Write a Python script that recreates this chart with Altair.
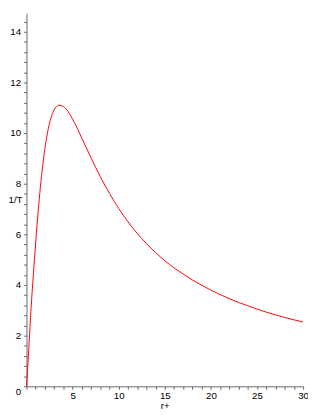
import altair as alt
import pandas as pd

r_plus = [0, 0.25, 0.5, 0.75, 1, 1.5, 2, 2.5, 3, 3.5, 4, 4.5, 5, 6, 7, 8, 9, 10,
          11, 12, 13, 14, 15, 16, 18, 20, 22, 24, 26, 28, 30]
inv_T = [0, 1.5, 3.1, 4.45, 5.7, 7.85, 9.4, 10.4, 10.92, 11.1, 11.05, 10.85, 10.55,
         9.8, 9.02, 8.28, 7.62, 7.02, 6.5, 6.04, 5.64, 5.28, 4.96, 4.68, 4.2, 3.8,
         3.46, 3.18, 2.93, 2.72, 2.54]

x_ticks = list(range(0, 31))
y_ticks = [round(i * 0.4, 1) for i in range(0, 37)]

df = pd.DataFrame({"r": r_plus, "invT": inv_T})

FONT = "Liberation Sans"
AXIS_COL = "#666666"
FS = 10

x_axis = alt.Axis(
    title="r+", values=x_ticks,
    labelExpr="(datum.value % 5 == 0 && datum.value != 0) ? format(datum.value, 'd') : ''",
    labelOverlap=False, labelFlush=False, grid=False,
    tickSize=3, tickColor=AXIS_COL, domainColor=AXIS_COL,
    labelFont=FONT, labelFontSize=FS, labelColor="black", labelPadding=2,
    titleFont=FONT, titleFontSize=FS, titleFontWeight="normal", titleColor="black",
    titleY=23, titleBaseline="alphabetic",
)

y_axis = alt.Axis(
    title="1/T", values=y_ticks,
    labelExpr="(abs(datum.value - round(datum.value / 2) * 2) < 0.01) ? format(round(datum.value), 'd') : ''",
    labelOverlap=False, labelFlush=False, grid=False,
    tickSize=3, tickColor=AXIS_COL, domainColor=AXIS_COL,
    labelFont=FONT, labelFontSize=FS, labelColor="black", labelPadding=3,
    labelOffset={"condition": {"test": "datum.value == 0", "value": 5}, "value": 0},
    titleFont=FONT, titleFontSize=FS, titleFontWeight="normal", titleColor="black",
    titleAngle=0, titleX=-19, titleY=191, titleAlign="left", titleBaseline="middle",
)

chart = alt.Chart(df).mark_line(color="#ff0000", strokeWidth=1, interpolate="monotone").encode(
    x=alt.X("r:Q", scale=alt.Scale(domain=[0, 30], nice=False, zero=False), axis=x_axis),
    y=alt.Y("invT:Q", scale=alt.Scale(domain=[0, 14.73], nice=False, zero=False), axis=y_axis),
).properties(
    width=284, height=383,
    background="white",
    autosize=alt.AutoSizeParams(type="none"),
    padding={"left": 19, "top": 0, "right": 5, "bottom": 24},
).configure_view(strokeOpacity=0, strokeWidth=0)

chart.save("out.html", embed_options={"renderer": "svg", "actions": False})
